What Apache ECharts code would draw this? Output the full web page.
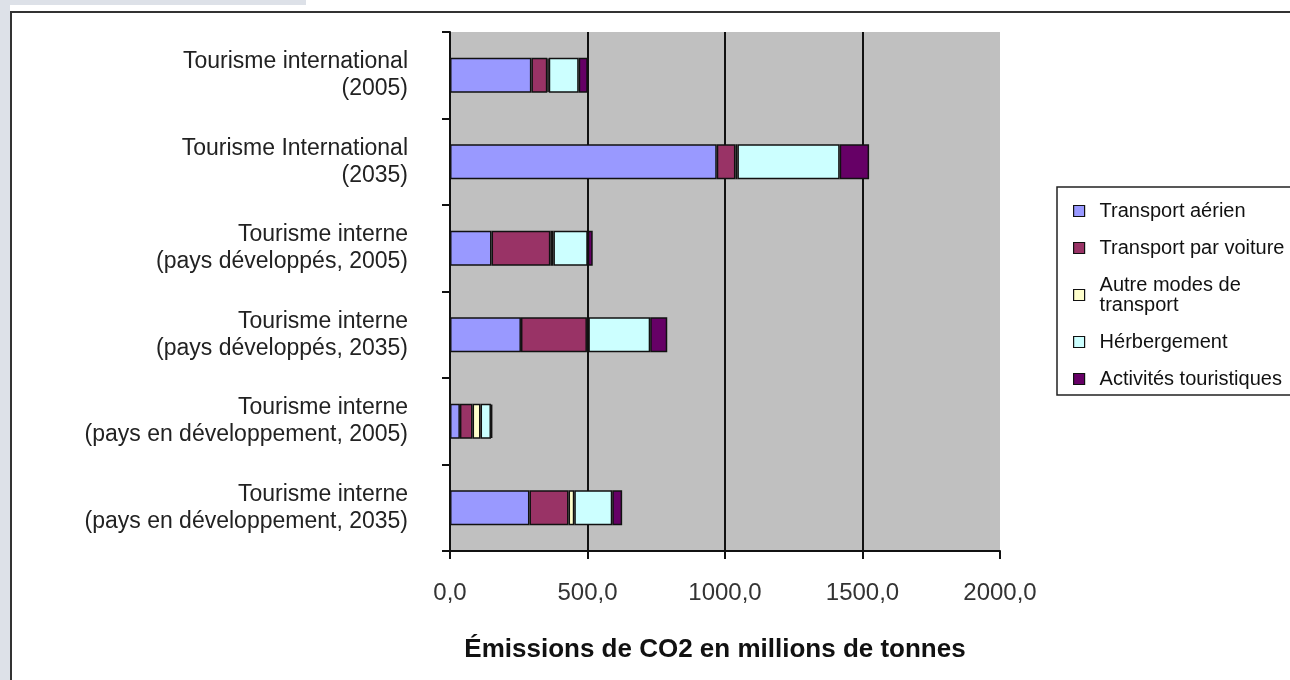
<!DOCTYPE html>
<html>
<head>
<meta charset="utf-8">
<script src="https://cdn.jsdelivr.net/npm/echarts@6/dist/echarts.min.js"></script>
<style>
html,body{margin:0;padding:0;background:#fff;}
#c{width:1290px;height:680px;}
</style>
</head>
<body>
<div id="c"></div>
<script>
var categories = [
  "Tourisme international\n(2005)",
  "Tourisme International\n(2035)",
  "Tourisme interne\n(pays développés, 2005)",
  "Tourisme interne\n(pays développés, 2035)",
  "Tourisme interne\n(pays en développement, 2005)",
  "Tourisme interne\n(pays en développement, 2035)"
];
var seriesNames = ["Transport aérien", "Transport par voiture", "Autre modes de transport", "Hérbergement", "Activités touristiques"];
var transportAerien = [296, 970, 151, 258, 36, 289];
var transportVoiture = [58, 68, 214, 240, 46, 142];
var autresModes = [5, 7, 11, 5, 29, 21];
var hebergement = [109, 372, 125, 225, 38, 138];
var activites = [33, 107, 18, 62, 5, 36];
var xTicks = [0, 500, 1000, 1500, 2000];
var xTickLabels = ["0,0", "500,0", "1000,0", "1500,0", "2000,0"];
var axisTitle = "Émissions de CO2 en millions de tonnes";

var colors = ["#9999ff", "#993366", "#ffffcc", "#ccffff", "#660066"];
var values = [transportAerien, transportVoiture, autresModes, hebergement, activites];
var font = "'Liberation Sans', Arial, sans-serif";

var chart = echarts.init(document.getElementById('c'));
var series = seriesNames.map(function (n, i) {
  return {
    name: n,
    type: 'bar',
    stack: 'total',
    barWidth: 35,
    data: values[i],
    itemStyle: { color: colors[i], borderColor: '#111', borderWidth: 1.5 },
    emphasis: { disabled: true }
  };
});

chart.setOption({
  animation: false,
  textStyle: { fontFamily: font },
  graphic: [
    { type: 'rect', z: -10, shape: { x: 0, y: 0, width: 306, height: 5 }, style: { fill: '#dde1e8' } },
    { type: 'rect', z: -10, shape: { x: 0, y: 0, width: 10, height: 680 }, style: { fill: '#dde1e8' } },
    { type: 'rect', z: -9, shape: { x: 11, y: 12, width: 1300, height: 700 }, style: { fill: '#fff', stroke: '#333', lineWidth: 2 } }
  ],
  grid: {
    left: 450, right: 290, top: 32, bottom: 129,
    show: true, backgroundColor: '#c0c0c0', borderWidth: 0
  },
  legend: {
    orient: 'vertical',
    left: 1057, top: 187,
    padding: [14, 60, 6, 16],
    itemGap: 17,
    itemWidth: 11, itemHeight: 11,
    icon: 'rect',
    backgroundColor: '#fff',
    borderColor: '#222', borderWidth: 1.5,
    data: seriesNames,
    formatter: function (n) {
      var s = n === "Autre modes de transport" ? "Autre modes de\ntransport" : n;
      return s.split("\n").map(function (l) { return "{t|" + l + "}"; }).join("\n");
    },
    textStyle: {
      fontFamily: font, fontSize: 20, color: '#111', lineHeight: 20,
      rich: { t: { fontFamily: font, fontSize: 20, color: '#111', lineHeight: 20, padding: [0, 0, 0, 10] } }
    },
    itemStyle: { borderColor: '#111', borderWidth: 1.2 }
  },
  xAxis: {
    type: 'value',
    min: 0, max: 2000, interval: 500,
    name: axisTitle,
    nameLocation: 'middle',
    nameGap: 86,
    nameTextStyle: { fontFamily: font, fontSize: 26, fontWeight: 'bold', color: '#111', padding: [0, 20, 0, 0] },
    axisLine: { show: true, lineStyle: { color: '#111', width: 2 } },
    axisTick: { show: true, length: 8, lineStyle: { color: '#111', width: 2 } },
    axisLabel: {
      margin: 30, fontSize: 24, color: '#333', fontFamily: font,
      formatter: function (v) { var i = xTicks.indexOf(v); return i >= 0 ? xTickLabels[i] : ''; }
    },
    splitLine: { show: true, showMinLine: false, showMaxLine: false, lineStyle: { color: '#111', width: 2 } }
  },
  yAxis: {
    type: 'category',
    inverse: true,
    data: categories,
    axisLine: { show: true, lineStyle: { color: '#111', width: 2 } },
    axisTick: { show: true, length: 8, lineStyle: { color: '#111', width: 2 } },
    axisLabel: { margin: 42, fontSize: 23, lineHeight: 27, color: '#222', align: 'right', fontFamily: font }
  },
  series: series
});
</script>
</body>
</html>
